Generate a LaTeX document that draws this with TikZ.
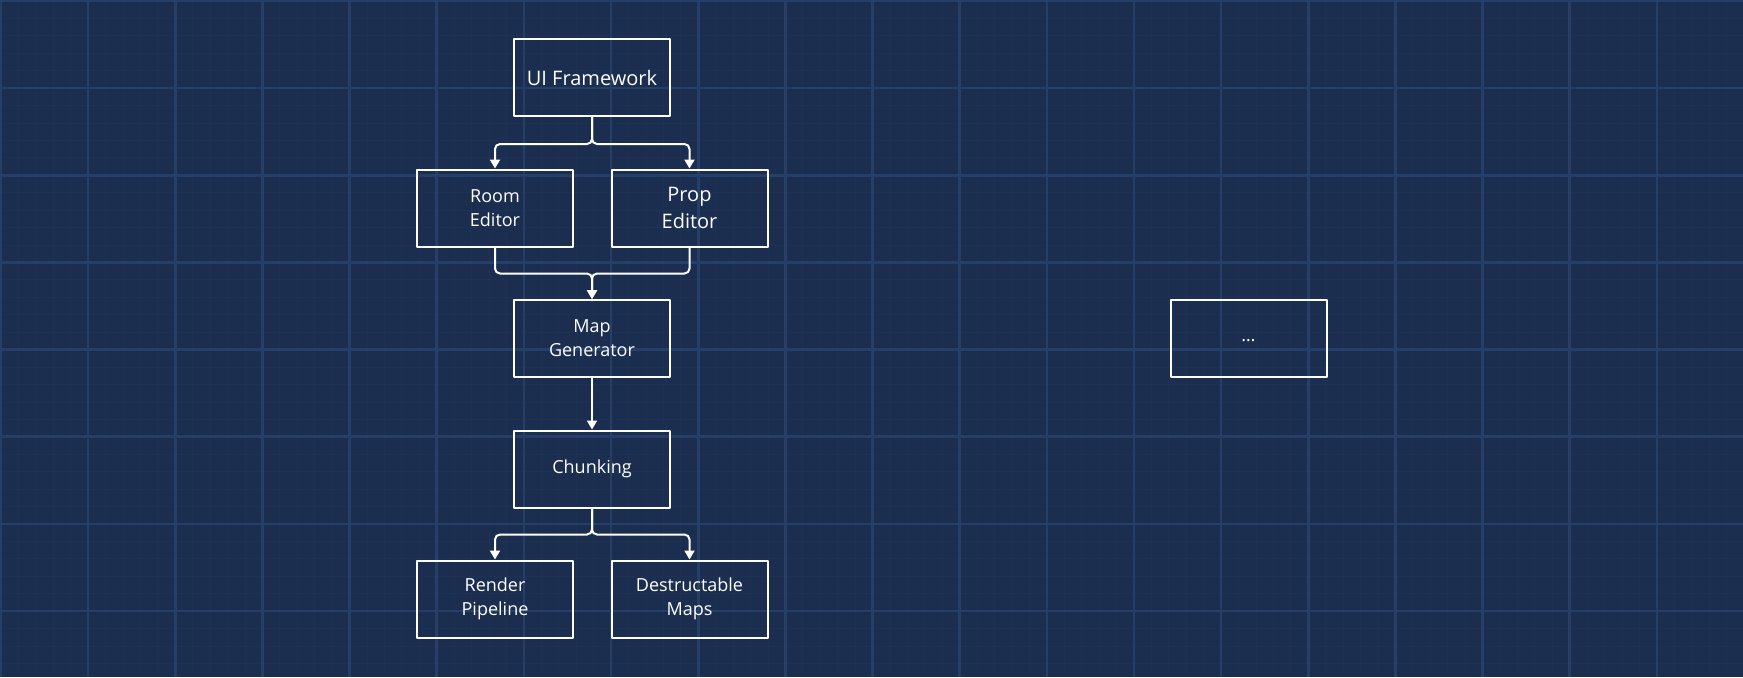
\documentclass[tikz,border=0pt]{standalone}
\usepackage{fontspec}
\setmainfont{Open Sans}
\usetikzlibrary{arrows.meta}
\definecolor{bgblue}{HTML}{1B2E50}
\definecolor{majorgrid}{HTML}{263F69}
\definecolor{minorgrid}{HTML}{1D3153}
\tikzset{
  box/.style={draw=white, line width=1pt, minimum width=78pt, minimum height=38.5pt,
    inner sep=0pt, align=center, text=white, font=\fontsize{9}{12}\selectfont},
  conn/.style={draw=white, line width=1pt, rounded corners=2.5pt,
    -{Triangle[width=5pt,length=4.5pt]}},
}
\begin{document}
\begin{tikzpicture}[x=0.5pt, y=-0.5pt, line join=round]
\def\W{1743} \def\H{677}
\fill[bgblue] (0,0) rectangle (\W,\H);
\useasboundingbox (0,0) rectangle (\W,\H);
% blueprint grid
\foreach \i in {0,...,100} \draw[minorgrid, line width=0.4pt] ({\i*17.43+1},0) -- ({\i*17.43+1},\H);
\foreach \j in {0,...,38} \draw[minorgrid, line width=0.4pt] (0,{\j*17.43+1}) -- (\W,{\j*17.43+1});
\foreach \i in {0,...,20} \draw[majorgrid, line width=1.3pt] ({\i*87.15+1},0) -- ({\i*87.15+1},\H);
\foreach \j in {0,...,7} \draw[majorgrid, line width=1.3pt] (0,{\j*87.15+1}) -- (\W,{\j*87.15+1});
% boxes
\node[box, font=\fontsize{10}{13}\selectfont] (ui) at (592,77.5) {UI Framework};
\node[box] (room) at (495,208) {Room\\Editor};
\node[box, font=\fontsize{10}{13.5}\selectfont] (prop) at (689.5,208) {Prop\\Editor};
\node[box] (map) at (592,338.5) {Map\\Generator};
\node[box] (chunk) at (592,469) {Chunking};
\node[box] (render) at (495,599) {Render\\Pipeline};
\node[box] (destr) at (689.5,599) {Destructable\\Maps};
\node[box] (more) at (1248.5,338.5) {\raisebox{-3pt}{…}};
% connectors
\draw[conn] (ui.south) -- ++(0,27) -| (room.north);
\draw[conn] (ui.south) -- ++(0,27) -| (prop.north);
\draw[conn] (room.south) -- ++(0,26) -| (map.north);
\draw[conn] (prop.south) -- ++(0,26) -| (map.north);
\draw[conn] (map) -- (chunk);
\draw[conn] (chunk.south) -- ++(0,26) -| (render.north);
\draw[conn] (chunk.south) -- ++(0,26) -| (destr.north);
\end{tikzpicture}
\end{document}
